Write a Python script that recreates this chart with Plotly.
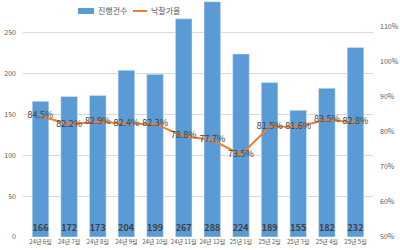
import plotly.graph_objects as go

categories = ["24년 6월", "24년 7월", "24년 8월", "24년 9월", "24년 10월", "24년 11월",
              "24년 12월", "25년 1월", "25년 2월", "25년 3월", "25년 4월", "25년 5월"]
counts = [166, 172, 173, 204, 199, 267, 288, 224, 189, 155, 182, 232]
rates = [84.5, 82.2, 82.9, 82.4, 82.3, 78.8, 77.7, 73.5, 81.5, 81.6, 83.5, 82.8]
rate_frac = [r / 100 for r in rates]

FONT = "Noto Sans CJK KR"
BLUE = "#5B9BD5"
ORANGE = "#ED7D31"
TXT = "#404040"

fig = go.Figure()
fig.add_trace(go.Bar(
    x=categories, y=counts, name="진행건수", marker_color=BLUE,
    text=[str(c) for c in counts], textposition="inside", insidetextanchor="start",
    textfont=dict(family=FONT, size=9, color=TXT, weight="bold"),
    textangle=0, cliponaxis=False, showlegend=False,
))
fig.add_trace(go.Scatter(
    x=categories, y=rate_frac, name="낙찰가율", yaxis="y2", mode="lines+text",
    line=dict(color=ORANGE, width=2),
    text=[f"{r:.1f}%" for r in rates], textposition="middle center",
    textfont=dict(family=FONT, size=9, color=TXT), showlegend=False,
))

W, H = 400, 250
L, R, T, B = 23, 27, 0, 13
pw, ph = W - L - R, H - T - B

def px(x):
    return (x - L) / pw

def py(y):
    return 1 - (y - T) / ph

shapes = [
    dict(type="rect", xref="paper", yref="paper", x0=px(78), x1=px(94), y0=py(14), y1=py(8),
         fillcolor=BLUE, line=dict(width=0)),
    dict(type="line", xref="paper", yref="paper", x0=px(133), x1=px(147), y0=py(11), y1=py(11),
         line=dict(color=ORANGE, width=2)),
]
annotations = [
    dict(xref="paper", yref="paper", x=px(96), y=py(11), xanchor="left", yanchor="middle",
         text="진행건수", showarrow=False, font=dict(family=FONT, size=8, color="#595959")),
    dict(xref="paper", yref="paper", x=px(149), y=py(11), xanchor="left", yanchor="middle",
         text="낙찰가율", showarrow=False, font=dict(family=FONT, size=8, color="#595959")),
]

fig.update_layout(
    width=W, height=H, margin=dict(l=L, r=R, t=T, b=B),
    paper_bgcolor="white", plot_bgcolor="white",
    font=dict(family=FONT, size=7, color="#595959"),
    bargap=0.42, shapes=shapes, annotations=annotations,
    uniformtext=dict(minsize=9, mode="show"),
    xaxis=dict(showgrid=False, showline=False, ticks="", tickfont=dict(size=6),
               tickangle=0, automargin=False),
    yaxis=dict(range=[0, 290], dtick=50, showgrid=True, gridcolor="#D9D9D9", gridwidth=1,
               zeroline=False, showline=False, ticks="", tickfont=dict(size=7),
               ticklabelstandoff=6, automargin=False),
    yaxis2=dict(range=[0.5, 1.177], dtick=0.1, tickformat=".0%", overlaying="y", side="right",
                showgrid=False, zeroline=False, showline=False, ticks="",
                tickfont=dict(size=7), ticklabelstandoff=6, automargin=False),
    showlegend=False,
)

fig.write_html("out.html")
